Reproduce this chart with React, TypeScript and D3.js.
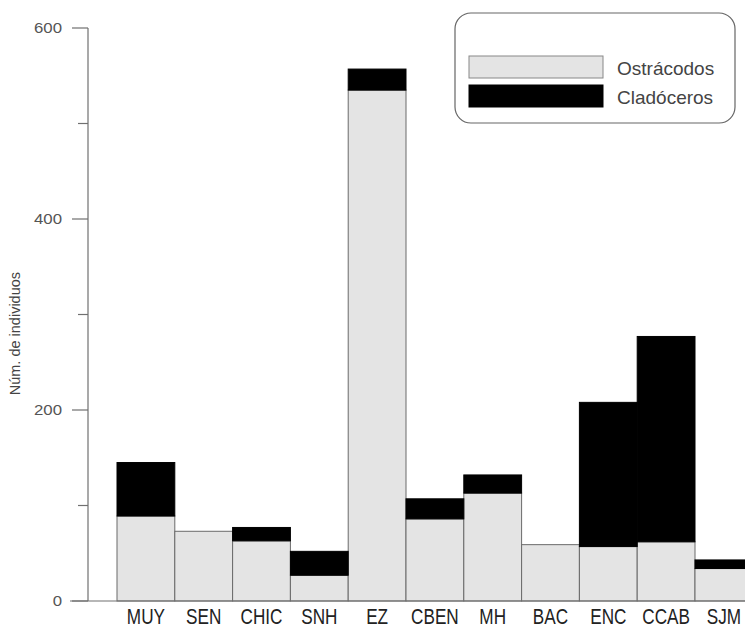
import { useEffect, useRef } from 'react';
import * as d3 from 'd3';

const categories = ['MUY', 'SEN', 'CHIC', 'SNH', 'EZ', 'CBEN', 'MH', 'BAC', 'ENC', 'CCAB', 'SJM'];
const ostracodos = [89, 73, 63, 27, 535, 86, 113, 59, 57, 62, 34];
const cladoceros = [56, 0, 14, 25, 22, 21, 19, 0, 151, 215, 9];
const seriesNames = ['Ostrácodos', 'Cladóceros'];
const seriesColors = ['#e4e4e4', '#000000'];
const majorTicks = [0, 200, 400, 600];
const minorTicks = [100, 300, 500];

export default function App() {
  const svgRef = useRef<SVGSVGElement>(null);
  const width = 745;
  const height = 630;

  useEffect(() => {
    if (!svgRef.current) return;
    const svg = d3.select(svgRef.current);
    svg.selectAll('*').remove();

    const font = '"Liberation Sans", Arial, sans-serif';

    const x = d3.scaleBand<string>()
      .domain(categories)
      .range([117, 117 + 57.8 * categories.length])
      .padding(0);

    const y = d3.scaleLinear().domain([0, 600]).range([601, 28]);

    const rows = categories.map((c, i) => ({ cat: c, o: ostracodos[i], c: cladoceros[i] }));
    const stack = d3.stack<any>().keys(['o', 'c'])(rows);

    // bars
    stack.forEach((layer, li) => {
      svg.append('g')
        .selectAll('rect')
        .data(layer.filter(d => d[1] - d[0] > 0))
        .enter()
        .append('rect')
        .attr('x', d => x(d.data.cat) || 0)
        .attr('y', d => y(d[1]))
        .attr('width', x.bandwidth())
        .attr('height', d => y(d[0]) - y(d[1]))
        .attr('fill', seriesColors[li])
        .attr('stroke', li === 0 ? '#6a6a6a' : '#000')
        .attr('stroke-width', 1);
    });

    // y axis
    const axis = svg.append('g').attr('stroke', '#707070').attr('stroke-width', 1.2);
    axis.append('line')
      .attr('x1', 88).attr('x2', 88)
      .attr('y1', y(600)).attr('y2', y(0));
    axis.append('line')
      .attr('x1', 70).attr('x2', width + 20)
      .attr('y1', y(0)).attr('y2', y(0));
    axis.selectAll('.major')
      .data(majorTicks)
      .enter()
      .append('line')
      .attr('x1', 72).attr('x2', 88)
      .attr('y1', d => y(d)).attr('y2', d => y(d));
    axis.selectAll('.minor')
      .data(minorTicks)
      .enter()
      .append('line')
      .attr('x1', 78).attr('x2', 88)
      .attr('y1', d => y(d)).attr('y2', d => y(d));

    svg.append('g')
      .selectAll('text')
      .data(majorTicks)
      .enter()
      .append('text')
      .attr('transform', d => `translate(62,${y(d) + 5}) scale(1.2,1)`)
      .attr('text-anchor', 'end')
      .attr('fill', '#555')
      .style('font-family', font)
      .style('font-size', '14px')
      .text(d => d);

    svg.append('text')
      .attr('transform', `translate(20,${y(280)}) rotate(-90)`)
      .attr('text-anchor', 'middle')
      .attr('fill', '#444')
      .style('font-family', font)
      .style('font-size', '14.5px')
      .text('Núm. de individuos');

    // category labels
    svg.append('g')
      .selectAll('text')
      .data(categories)
      .enter()
      .append('text')
      .attr('transform', d => `translate(${(x(d) || 0) + x.bandwidth() / 2},624) scale(0.78,1)`)
      .attr('text-anchor', 'middle')
      .attr('fill', '#222')
      .style('font-family', font)
      .style('font-size', '22px')
      .text(d => d);

    // legend
    const legend = svg.append('g');
    legend.append('rect')
      .attr('x', 455).attr('y', 13)
      .attr('width', 280).attr('height', 110)
      .attr('rx', 16).attr('ry', 16)
      .attr('fill', '#fff')
      .attr('stroke', '#666')
      .attr('stroke-width', 1.2);
    seriesNames.forEach((name, i) => {
      legend.append('rect')
        .attr('x', 469).attr('y', 56 + i * 29)
        .attr('width', 134).attr('height', 22)
        .attr('fill', seriesColors[i])
        .attr('stroke', i === 0 ? '#888' : '#000');
      legend.append('text')
        .attr('x', 617).attr('y', 75 + i * 29)
        .attr('fill', '#444')
        .style('font-family', font)
        .style('font-size', '19px')
        .text(name);
    });
  }, []);

  return (
    <svg
      ref={svgRef}
      width={width}
      height={height}
      style={{ position: 'absolute', left: 0, top: 0, background: '#fff' }}
    />
  );
}
